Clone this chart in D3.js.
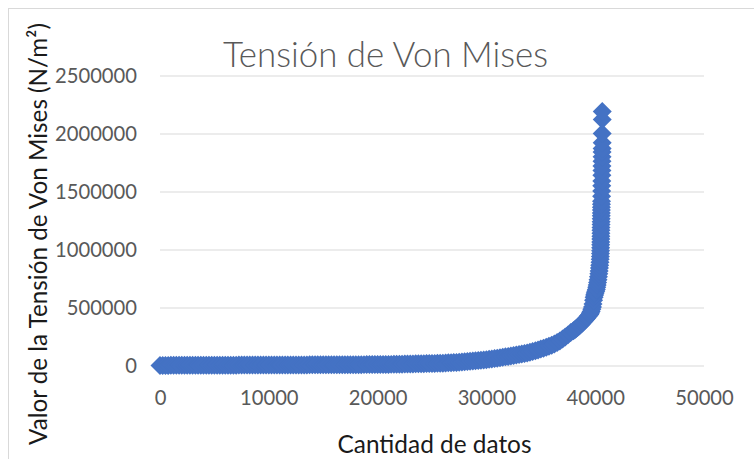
<!DOCTYPE html>
<html>
<head>
<meta charset="utf-8">
<script src="https://cdn.jsdelivr.net/npm/d3@7"></script>
<style>
  html, body { margin: 0; padding: 0; background: #ffffff; }
  svg { display: block; }
  text { font-family: "Lato", "Open Sans", "Liberation Sans", sans-serif; }
</style>
</head>
<body>
<svg id="chart" width="754" height="459"></svg>
<script>
// ---- Data -------------------------------------------------------------
const chartTitle = "Tensión de Von Mises";
const xTitle = "Cantidad de datos";
const yTitle = "Valor de la Tensión de Von Mises (N/m²)";

const xTicks = [0, 10000, 20000, 30000, 40000, 50000];
const yTicks = [0, 500000, 1000000, 1500000, 2000000, 2500000];

// Sorted stress values, sampled every 250 records (0 … 37750)
const cantidadBase = [
  0, 250, 500, 750, 1000, 1250, 1500, 1750,
  2000, 2250, 2500, 2750, 3000, 3250, 3500, 3750,
  4000, 4250, 4500, 4750, 5000, 5250, 5500, 5750,
  6000, 6250, 6500, 6750, 7000, 7250, 7500, 7750,
  8000, 8250, 8500, 8750, 9000, 9250, 9500, 9750,
  10000, 10250, 10500, 10750, 11000, 11250, 11500, 11750,
  12000, 12250, 12500, 12750, 13000, 13250, 13500, 13750,
  14000, 14250, 14500, 14750, 15000, 15250, 15500, 15750,
  16000, 16250, 16500, 16750, 17000, 17250, 17500, 17750,
  18000, 18250, 18500, 18750, 19000, 19250, 19500, 19750,
  20000, 20250, 20500, 20750, 21000, 21250, 21500, 21750,
  22000, 22250, 22500, 22750, 23000, 23250, 23500, 23750,
  24000, 24250, 24500, 24750, 25000, 25250, 25500, 25750,
  26000, 26250, 26500, 26750, 27000, 27250, 27500, 27750,
  28000, 28250, 28500, 28750, 29000, 29250, 29500, 29750,
  30000, 30250, 30500, 30750, 31000, 31250, 31500, 31750,
  32000, 32250, 32500, 32750, 33000, 33250, 33500, 33750,
  34000, 34250, 34500, 34750, 35000, 35250, 35500, 35750,
  36000, 36250, 36500, 36750, 37000, 37250, 37500, 37750
];
const tensionBase = [
  200, 500, 750, 950, 1100, 1250, 1350, 1450,
  1550, 1650, 1750, 1850, 1950, 2050, 2150, 2200,
  2300, 2400, 2450, 2550, 2600, 2700, 2750, 2850,
  2900, 3000, 3050, 3150, 3200, 3300, 3350, 3450,
  3500, 3600, 3650, 3750, 3800, 3900, 3950, 4050,
  4100, 4200, 4300, 4350, 4450, 4550, 4600, 4700,
  4800, 4900, 4950, 5050, 5150, 5250, 5350, 5450,
  5500, 5600, 5700, 5800, 5900, 6000, 6100, 6200,
  6300, 6400, 6500, 6650, 6750, 6850, 6950, 7100,
  7200, 7300, 7450, 7550, 7650, 7800, 7900, 8000,
  8100, 8400, 8700, 9000, 9300, 9700, 10100, 10500,
  10900, 11400, 11900, 12400, 12900, 13500, 14100, 14700,
  15300, 15900, 16500, 17100, 17700, 18300, 19000, 19700,
  20400, 21500, 22700, 24000, 25400, 26900, 28500, 30200,
  32000, 34000, 36000, 38100, 40300, 42600, 45000, 47500,
  50500, 53500, 56700, 60000, 63400, 67000, 70700, 74500,
  78400, 82400, 86500, 90700, 95000, 99500, 104000, 108700,
  115000, 121000, 127500, 134500, 142000, 149500, 157500, 166000,
  175000, 186000, 198000, 212000, 228000, 245000, 264000, 284000
];

// Highest-stress records (38000 onward), sampled more densely
const cantidadCola = [
  38000, 38125, 38250, 38375, 38500, 38625, 38750, 38875,
  39000, 39125, 39250, 39375, 39500, 39560, 39625, 39690,
  39750, 39800, 39850, 39900, 39950, 40000, 40050, 40100,
  40140, 40180, 40220, 40260, 40300, 40330, 40360, 40390,
  40415, 40440, 40460, 40475, 40485, 40495, 40500, 40505,
  40510, 40515, 40520, 40525, 40530, 40535, 40540, 40545,
  40550, 40555, 40560, 40565, 40570, 40575, 40580, 40588,
  40596, 40603, 40608, 40613, 40617, 40621, 40625, 40629,
  40633, 40636, 40640, 40643, 40646, 40649
];
const tensionCola = [
  300000, 309000, 318000, 328000, 338000, 349000, 360000, 372000,
  385000, 398000, 412000, 426000, 440000, 452000, 465000, 484000,
  505000, 530000, 562000, 588000, 608000, 625000, 640000, 655000,
  675000, 695000, 715000, 740000, 765000, 790000, 815000, 840000,
  865000, 890000, 915000, 940000, 965000, 990000, 1015000, 1040000,
  1065000, 1090000, 1115000, 1140000, 1165000, 1190000, 1215000, 1240000,
  1265000, 1290000, 1315000, 1340000, 1365000, 1390000, 1415000, 1460000,
  1505000, 1550000, 1590000, 1640000, 1680000, 1720000, 1760000, 1800000,
  1840000, 1870000, 1920000, 2000000, 2120000, 2190000
];

// ---- Chart ------------------------------------------------------------
const svg = d3.select("#chart");
const W = 754, H = 459;

// plot area
const plotLeft = 160, plotRight = 704, plotTop = 75.5, plotBottom = 365.5;

const x = d3.scaleLinear().domain([0, 50000]).range([plotLeft, plotRight]);
const y = d3.scaleLinear().domain([0, 2500000]).range([plotBottom, plotTop]);

// chart frame
svg.append("rect")
  .attr("x", 8.5).attr("y", 8.5)
  .attr("width", W + 40).attr("height", H + 40)
  .attr("fill", "#ffffff")
  .attr("stroke", "#d9d9d9")
  .attr("stroke-width", 1);

const tickColor = "#595959";

// y axis with horizontal gridlines
const yAxisG = svg.append("g")
  .attr("transform", `translate(${plotLeft},0)`)
  .call(d3.axisLeft(y)
    .tickValues(yTicks)
    .tickSize(-(plotRight - plotLeft))
    .tickFormat(d3.format("d")));
yAxisG.select(".domain").remove();
yAxisG.selectAll(".tick line").attr("stroke", "#d9d9d9").attr("stroke-width", 1);
yAxisG.selectAll(".tick text")
  .attr("x", -23)
  .attr("dy", "0.36em")
  .attr("fill", tickColor)
  .attr("text-anchor", "end")
  .style("font-size", "20px");

// x axis (labels only)
const xAxisG = svg.append("g")
  .attr("transform", `translate(0,${plotBottom})`)
  .call(d3.axisBottom(x)
    .tickValues(xTicks)
    .tickSize(0)
    .tickFormat(d3.format("d")));
xAxisG.select(".domain").remove();
xAxisG.selectAll(".tick text")
  .attr("y", 39.5)
  .attr("dy", 0)
  .attr("fill", tickColor)
  .style("font-size", "20px");

// scale tick font so "2500000" spans ~82px
const refTick = yAxisG.selectAll(".tick text").filter(d => d === 2500000).node();
const tickSize = 20 * 82 / refTick.getComputedTextLength();
yAxisG.selectAll(".tick text").style("font-size", tickSize + "px");
xAxisG.selectAll(".tick text").style("font-size", tickSize + "px");

// title
const title = svg.append("text")
  .attr("x", 385.5).attr("y", 66.5)
  .attr("text-anchor", "middle")
  .attr("fill", "#595959")
  .style("font-weight", 300)
  .style("font-size", "30px")
  .text(chartTitle);
title.style("font-size", (30 * 325 / title.node().getComputedTextLength()) + "px");

// x axis title
const xt = svg.append("text")
  .attr("x", 434.5).attr("y", 453)
  .attr("text-anchor", "middle")
  .attr("fill", "#1a1a1a")
  .style("font-size", "22px")
  .text(xTitle);
xt.style("font-size", (22 * 194 / xt.node().getComputedTextLength()) + "px");

// y axis title
const yt = svg.append("text")
  .attr("transform", "translate(46.5,234) rotate(-90)")
  .attr("text-anchor", "middle")
  .attr("fill", "#1a1a1a")
  .style("font-size", "22px")
  .text(yTitle);
yt.style("font-size", (22 * 422 / yt.node().getComputedTextLength()) + "px");

// ---- markers ------------------------------------------------------------
const diamondType = d3.symbolDiamond2 || {
  draw(ctx, size) {
    const r = Math.sqrt(size) * 0.62625;
    ctx.moveTo(0, -r); ctx.lineTo(r, 0); ctx.lineTo(0, r); ctx.lineTo(-r, 0); ctx.closePath();
  }
};
const marker = d3.symbol().type(diamondType).size(230);

const puntos = cantidadBase.map((c, k) => ({ c, v: tensionBase[k] }))
  .concat(cantidadCola.map((c, k) => ({ c, v: tensionCola[k] })));

svg.append("g")
  .selectAll("path")
  .data(puntos)
  .join("path")
  .attr("transform", d => `translate(${x(d.c)},${y(d.v)})`)
  .attr("d", marker)
  .attr("fill", "#4472c4");
</script>
</body>
</html>
